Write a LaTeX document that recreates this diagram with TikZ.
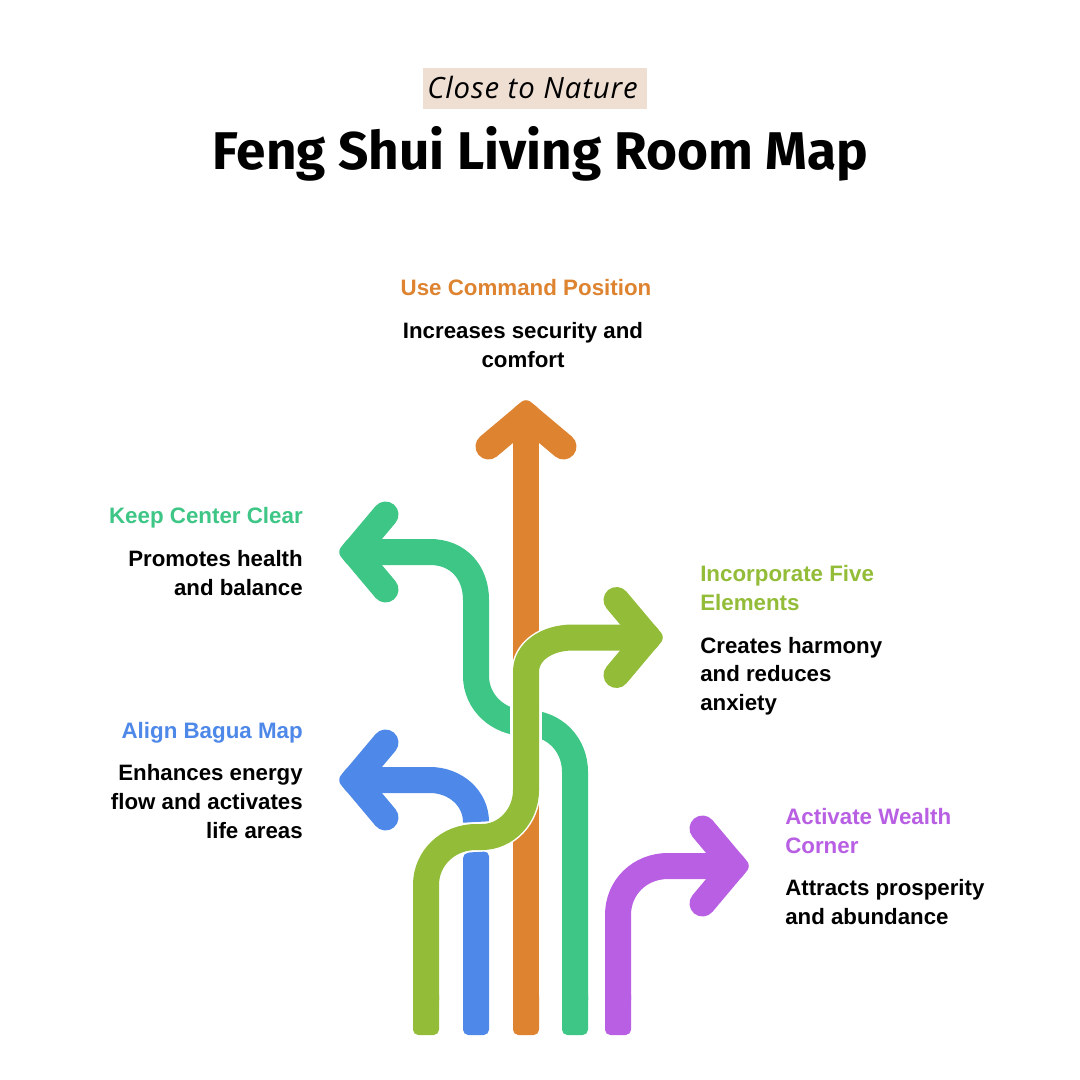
\documentclass[tikz,border=0pt]{standalone}
\usepackage{fontspec}
\setmainfont{Liberation Sans}
\newfontfamily\titlefont{Fira Sans}
\newfontfamily\tagfont[LetterSpace=3]{Open Sans}
\definecolor{cOrange}{HTML}{DE8330}
\definecolor{cGreen}{HTML}{3DC685}
\definecolor{cLime}{HTML}{93BC38}
\definecolor{cBlue}{HTML}{4E88E8}
\definecolor{cPurple}{HTML}{B85FE4}
\definecolor{cTag}{HTML}{EFDED2}
\tikzset{
  x=0.75pt,y=-0.75pt,
  flow/.style={line width=19.5pt,line cap=butt},
  casing/.style={draw=white,line width=21.75pt,line cap=butt},
  head/.style={line width=19.5pt,line cap=round,line join=round},
  heading/.style={font=\bfseries\fontsize{16.75}{21.4}\selectfont,inner sep=0pt,align=#1},
  body/.style={font=\bfseries\fontsize{16.7}{21.4}\selectfont,text=black,inner sep=0pt,align=#1},
}
% #1 colour, #2 visible tip, #3 rotation
\newcommand{\arrowtip}[3]{%
  \begin{scope}[shift={#2},rotate=#3]
    \draw[head,draw=#1] (-45.5,-37.5) -- (-14,0) -- (-45.5,37.5);
    \fill[#1,rounded corners=4.5pt] (3,0) -- (-9.8,15.4) -- (-22,0) -- (-9.8,-15.4) -- cycle;
  \end{scope}}
% #1 colour, #2 centre x
\newcommand{\stemfoot}[2]{%
  \fill[#1,rounded corners=4pt] (#2-13,990) rectangle (#2+13,1035);}
\begin{document}
\begin{tikzpicture}
\useasboundingbox (0,0) rectangle (1080,1080);
\fill[white] (0,0) rectangle (1080,1080);
% title
\fill[cTag] (423,68) rectangle (647,109);
\node[anchor=base,inner sep=0pt,font=\tagfont\itshape\fontsize{22}{25}\selectfont] (tag) at (532.5,99) {Close to Nature};
\node[anchor=base,inner sep=0pt,font=\titlefont\bfseries\fontsize{39.8}{46}\selectfont] (title) at (540.5,170) {Feng Shui Living Room Map};
% purple
\draw[flow,cPurple] (618,1000) -- (618,915) .. controls (618,887) and (640,866) .. (668,866) -- (730,866);
\stemfoot{cPurple}{618}
\arrowtip{cPurple}{(748,866)}{0}
% orange
\draw[flow,cOrange] (526,1000) -- (526,420);
\stemfoot{cOrange}{526}
\arrowtip{cOrange}{(526,401)}{90}
% green
\draw[flow,cGreen] (575,1000) -- (575,772) .. controls (575,745) and (555,723) .. (526,723) .. controls (498,723) and (476,702) .. (476,676) -- (476,600) .. controls (476,572) and (458,552) .. (430,552) -- (358,552);
\stemfoot{cGreen}{575}
\arrowtip{cGreen}{(340,552)}{180}
\draw[draw=white,line width=24pt] (526,690) -- (526,760);
% blue
\draw[flow,cBlue] (476,822) .. controls (476,798) and (455,780) .. (430,780) -- (358,780);
\arrowtip{cBlue}{(340,780)}{180}
\fill[cBlue,rounded corners=4pt] (463,853) -- (489,851) -- (489,1035) -- (463,1035) -- cycle;
% lime
\draw[casing] (426,900) -- (426,885) .. controls (426,858) and (448,837) .. (476,837) -- (482,837) .. controls (506,837) and (526,816) .. (526,790) -- (526,672) .. controls (526,652) and (546,637.5) .. (573,637.5) -- (600,637.5);
\draw[flow,cLime] (426,1000) -- (426,885) .. controls (426,858) and (448,837) .. (476,837) -- (482,837) .. controls (506,837) and (526,816) .. (526,790) -- (526,672) .. controls (526,652) and (546,637.5) .. (573,637.5) -- (644,637.5);
\stemfoot{cLime}{426}
\arrowtip{cLime}{(662,637.5)}{0}
% labels
\node[heading=center,text=cOrange,anchor=base] (h1) at (526,295.5) {Use Command Position};
\node[body=center,anchor=base] (b1) at (523,367) {Increases security and\\comfort};
\node[heading=right,text=cGreen,anchor=base east] (h2) at (303,523.5) {Keep Center Clear};
\node[body=right,anchor=base east] (b2) at (303,595.5) {Promotes health\\and balance};
\node[heading=left,text=cLime,anchor=base west] (h3) at (700,610) {Incorporate Five\\Elements};
\node[body=left,anchor=base west] (b3) at (700,710.5) {Creates harmony\\and reduces\\anxiety};
\node[heading=right,text=cBlue,anchor=base east] (h4) at (303,738) {Align Bagua Map};
\node[body=right,anchor=base east] (b4) at (303,838) {Enhances energy\\flow and activates\\life areas};
\node[heading=left,text=cPurple,anchor=base west] (h5) at (785,853) {Activate Wealth\\Corner};
\node[body=left,anchor=base west] (b5) at (785,924) {Attracts prosperity\\and abundance};
\end{tikzpicture}
\end{document}
